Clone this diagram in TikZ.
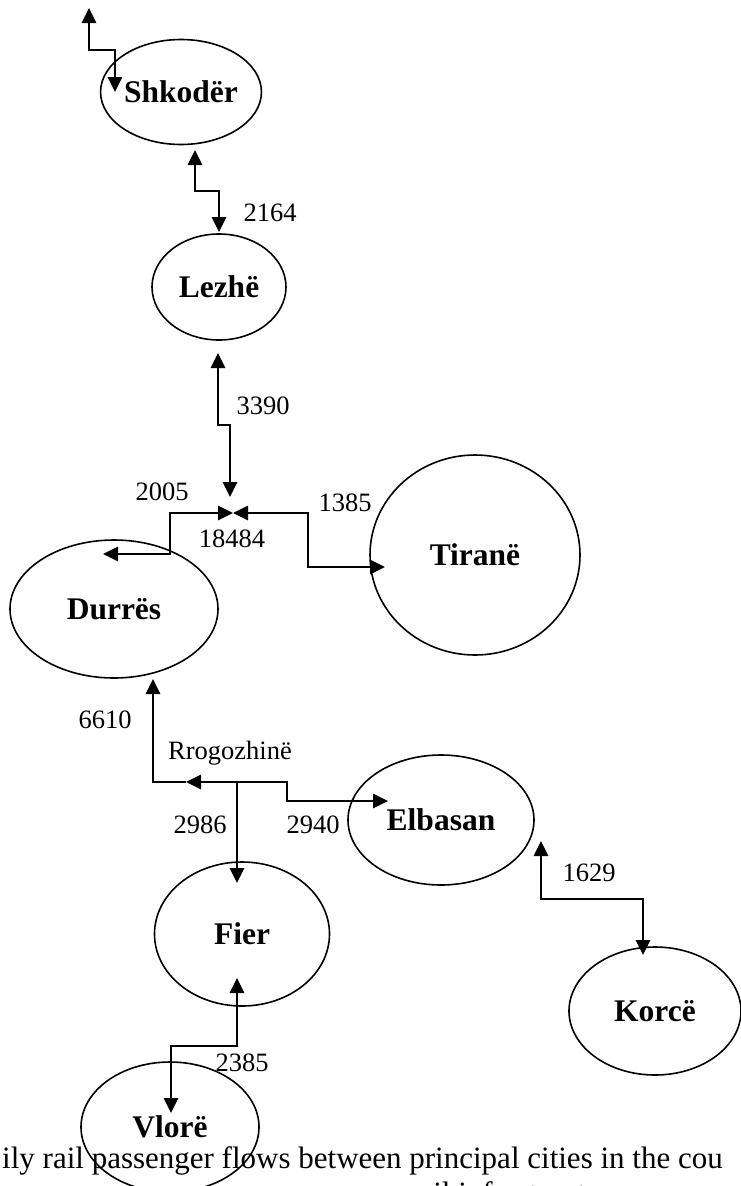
\documentclass[tikz,border=0pt]{standalone}
\usepackage{fontspec}
\setmainfont{Liberation Serif}
\usetikzlibrary{arrows.meta,shapes.geometric}
\begin{document}
\begin{tikzpicture}[x=1pt,y=-1pt,
  city/.style={draw,ellipse,line width=1.6pt,inner sep=0pt,font=\fontsize{31.5}{36}\selectfont\bfseries},
  num/.style={font=\fontsize{26.5}{30}\selectfont,inner sep=0pt},
  flow/.style={line width=2.9pt},
  tipA/.style={-{Triangle[length=15pt,width=14pt]}},
  both/.style={{Triangle[length=15pt,width=14pt]}-{Triangle[length=15pt,width=14pt]}}
]
\useasboundingbox (0,0) rectangle (741,1186);

% cities
\node[city,minimum width=158pt,minimum height=105pt] (shk) at (181,92) {Shkodër};
\node[city,minimum width=134pt,minimum height=106pt] (lez) at (219,287) {Lezhë};
\node[city,minimum width=210pt,minimum height=200pt] (tir) at (475,555) {Tiranë};
\node[city,minimum width=208pt,minimum height=138pt] (dur) at (114,609) {Durrës};
\node[city,minimum width=186pt,minimum height=130pt] (elb) at (441,820) {Elbasan};
\node[city,minimum width=175pt,minimum height=144pt] (fie) at (242,934) {Fier};
\node[city,minimum width=172pt,minimum height=128pt] (kor) at (655,1011) {Korcë};
\node[city,minimum width=178pt,minimum height=130pt] (vlo) at (170,1127) {Vlorë};

% junctions and connector ends
\coordinate (out) at (89,8);
\coordinate (shkIn) at (115,92);
\coordinate (shkS) at (195,150);
\coordinate (lezN) at (219,232);
\coordinate (lezS) at (218,353);
\coordinate (J) at (233,513);
\coordinate (durT) at (103,554);
\coordinate (tirW) at (385,567);
\coordinate (durS) at (153,679);
\coordinate (R) at (237,782);
\coordinate (Rmid) at (186,782);
\coordinate (elbW) at (388,801);
\coordinate (fieN) at (237,883);
\coordinate (elbS) at (541,841);
\coordinate (korN) at (643,955);
\coordinate (fieS) at (237,978);
\coordinate (vloIn) at (171,1113);

% connectors
\draw[flow,both] (out) -- (89,50) -- (115,50) -- (shkIn);
\draw[flow,both] (shkS) -- (195,191) -- (219,191) -- (lezN);
\draw[flow,both] (lezS) -- (218,425) -- (230,425) -- (230,497);
\draw[flow,both] (durT) -- (170,554) -- (170,513) -- (J);
\draw[flow,both] (tirW) -- (308,567) -- (308,513) -- (J);
\draw[flow,tipA] (R) -- (Rmid);
\draw[flow,tipA] (Rmid) -- (153,782) -- (durS);
\draw[flow,tipA] (R) -- (287,782) -- (287,801) -- (elbW);
\draw[flow,tipA] (R) -- (fieN);
\draw[flow,both] (elbS) -- (541,899) -- (643,899) -- (korN);
\draw[flow,both] (fieS) -- (237,1046) -- (171,1046) -- (vloIn);

% labels
\node[num] (l2164) at (270,213) {2164};
\node[num] (l3390) at (263,406) {3390};
\node[num] (l2005) at (162,492) {2005};
\node[num] (l1385) at (345,503) {1385};
\node[num] (l18484) at (232,539) {18484};
\node[num] (l6610) at (105,720) {6610};
\node[num] (lrr) at (230,753) {Rrogozhinë};
\node[num] (l2986) at (200,825) {2986};
\node[num] (l2940) at (313,825) {2940};
\node[num] (l1629) at (589,873) {1629};
\node[num] (l2385) at (242,1063) {2385};

% caption
\node[anchor=base west,inner sep=0pt,font=\fontsize{31}{36}\selectfont] (cap1) at (2,1168) {ily rail passenger flows between principal cities in the cou};
\node[anchor=base west,inner sep=0pt,font=\fontsize{31}{36}\selectfont] (cap2) at (409,1203) {rail infrastructure};
\end{tikzpicture}
\end{document}
